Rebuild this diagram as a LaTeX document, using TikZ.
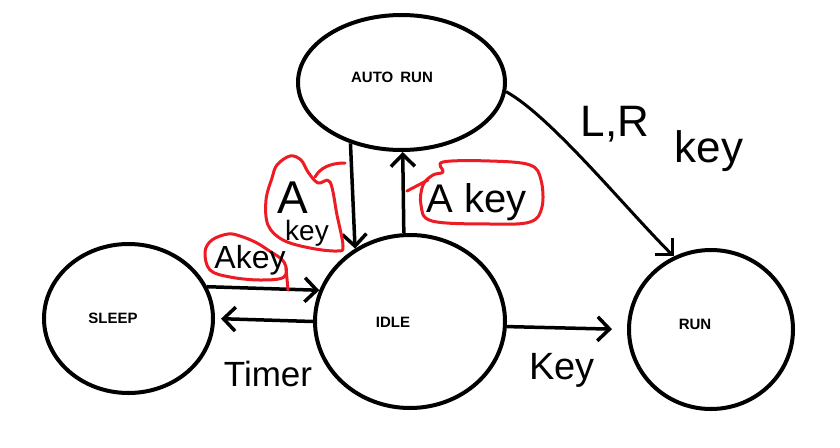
\documentclass[tikz,border=0pt]{standalone}
\usepackage{fontspec}
\setmainfont{Liberation Sans}
\usetikzlibrary{shapes.geometric,arrows.meta}
\definecolor{paintred}{RGB}{237,28,36}
\begin{document}
\begin{tikzpicture}[x=1pt,y=-1pt,
  state/.style={draw, ellipse, line width=4pt, inner sep=0pt},
  lab/.style={font=\bfseries\fontsize{15}{17}\selectfont, inner sep=0pt},
  hand/.style={font=\fontsize{#1}{#1}\selectfont, inner sep=0pt, anchor=base},
  conn/.style={line width=3.5pt, -{Straight Barb[length=12pt,width=24pt]}},
  bubble/.style={draw=paintred, line width=3pt, line join=round, line cap=round}]
\useasboundingbox (0,0) rectangle (840,447);
\fill[white] (0,0) rectangle (840,447);

% states
\node[state, minimum width=207pt, minimum height=135pt] (auto) at (401.5,82.5) {};
\node[state, minimum width=190pt, minimum height=173pt] (idle) at (410,321.5) {};
\node[state, minimum width=169pt, minimum height=149pt] (sleep) at (128.5,318.5) {};
\node[state, minimum width=164pt, minimum height=159pt] (run) at (711,329.5) {};

\node[lab] (autolab) at (392,77) {AUTO\hspace{7pt}RUN};
\node[lab] (idlelab) at (393,322) {IDLE};
\node[lab] (sleeplab) at (113,318) {SLEEP};
\node[lab] (runlab) at (695,324) {RUN};

% connectors
\draw[conn] (auto.-130) -- (idle.127);
\draw[conn] (idle.94) -- (auto.-89);
\draw[conn] (sleep.22) -- (idle.161);
\draw[conn, shorten >=6pt] (idle.west) -- (sleep.east);
\draw[conn, shorten >=15pt] (idle.-3) -- (run.west);
\draw[conn, line width=3pt] (auto.-5) .. controls +(45,25) and +(-50,-50) .. (run.117);

% red bubbles
\draw[bubble] plot[smooth cycle, tension=0.6] coordinates {(443,162) (490,161) (530,165) (541,180) (542,207) (530,222) (490,224) (432,221) (421,205) (423,185) (433,175) (443,172)};
\draw[bubble] (407,191) -- (428,180);

\draw[bubble] plot[smooth cycle, tension=0.6] coordinates {(277,165) (290,156) (301,160) (308,172) (318,183) (330,182) (337,215) (343,246) (337,251) (310,248) (283,240) (268,225) (266,200) (272,178)};
\draw[bubble] (315,177) .. controls (320,168) and (330,163) .. (345,163);

\draw[bubble] plot[smooth cycle, tension=0.6] coordinates {(205,252) (212,240) (228,234) (240,236) (255,242) (268,250) (284,262) (284,277) (260,280) (230,277) (210,270)};
\draw[bubble] (286,268) -- (288,290);

% handwritten labels
\node[hand=40] (akey1) at (477,212) {A key};
\node[hand=46] (akey2a) at (293,213) {A};
\node[hand=28] (akey2b) at (307,240) {key};
\node[hand=32] (akey3) at (250,268) {Akey};
\node[hand=35] (timer) at (268,386) {Timer};
\node[hand=38] (key) at (562,379) {Key};
\node[hand=44] (lr) at (615,136) {L,R};
\node[hand=44] (lrkey) at (709,162) {key};
\end{tikzpicture}
\end{document}
